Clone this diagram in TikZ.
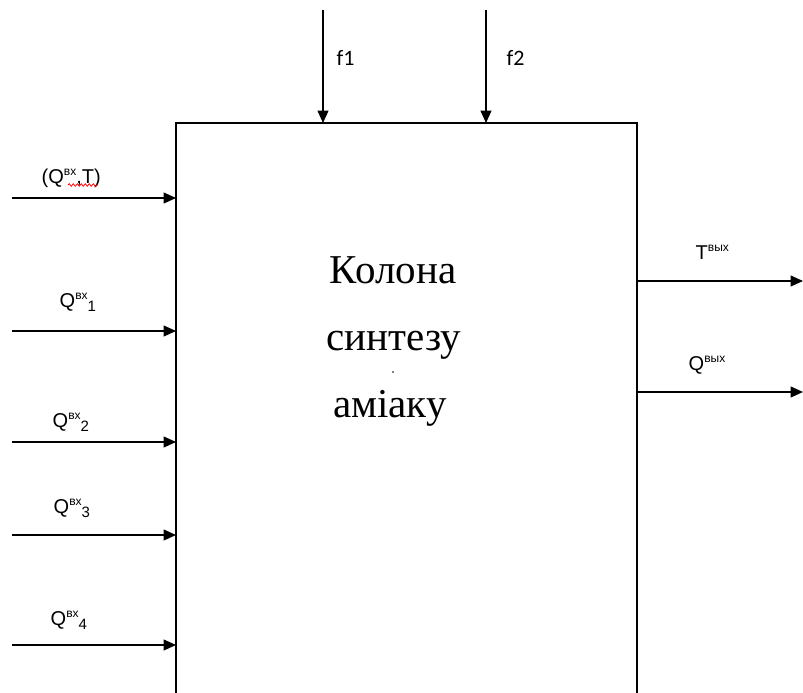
\documentclass[tikz,border=0pt]{standalone}
\usepackage{fontspec}
\setmainfont{Liberation Serif}
\newfontfamily\labfont{Liberation Sans}
\newfontfamily\califont{Carlito}
\usetikzlibrary{arrows.meta,decorations.pathmorphing}
\newcommand{\mysup}[1]{\raisebox{8pt}{\fontsize{12}{12}\selectfont #1}}
\newcommand{\mysub}[1]{\raisebox{-4pt}{\fontsize{15}{15}\selectfont #1}}
\begin{document}
\begin{tikzpicture}[x=1pt,y=-1pt,line width=1.4pt,
  arr/.style={-{Triangle[length=12.5pt,width=11pt]}},
  lab/.style={font=\labfont\fontsize{20}{20}\selectfont,inner sep=0pt,anchor=base west},
  flab/.style={font=\califont\fontsize{22}{22}\selectfont,inner sep=0pt,anchor=base west},
  big/.style={font=\fontsize{41}{41}\selectfont,inner sep=0pt,anchor=base}]
\useasboundingbox (0,0) rectangle (803,693);
% box (open at the bottom)
\coordinate (bbl) at (176,700);
\coordinate (btl) at (176,123);
\coordinate (btr) at (637,123);
\coordinate (bbr) at (637,700);
\draw (bbl) -- (btl) -- (btr) -- (bbr);
% top inputs
\coordinate (f1s) at (323,10);  \coordinate (f1e) at (323,123);
\coordinate (f2s) at (486,10);  \coordinate (f2e) at (486,123);
\draw[arr] (f1s) -- (f1e);
\draw[arr] (f2s) -- (f2e);
\node[flab] (f1) at (336,66) {f1};
\node[flab] (f2) at (506,66) {f2};
% left inputs
\foreach \y/\n in {198/a,331/b,442/c,535/d,645/e}{
  \coordinate (in\n s) at (12,\y);
  \coordinate (in\n e) at (176,\y);
  \draw[arr] (in\n s) -- (in\n e);
}
\node[lab] (l0) at (41,183) {(Q\mysup{вх},T)};
\draw[red,line width=0.8pt,decorate,decoration={snake,amplitude=1.2pt,segment length=4pt}] (68,185) -- (98,185);
\node[lab] (l1) at (59,307) {Q\mysup{вх}\mysub{1}};
\node[lab] (l2) at (52,427) {Q\mysup{вх}\mysub{2}};
\node[lab] (l3) at (53,513) {Q\mysup{вх}\mysub{3}};
\node[lab] (l4) at (50,625) {Q\mysup{вх}\mysub{4}};
% right outputs
\coordinate (ots) at (637,281); \coordinate (ote) at (803,281);
\coordinate (oqs) at (637,392); \coordinate (oqe) at (803,392);
\draw[arr] (ots) -- (ote);
\draw[arr] (oqs) -- (oqe);
\node[lab] (tout) at (695,259) {T\mysup{вых}};
\node[lab] (qout) at (688,370) {Q\mysup{вых}};
% main text
\node[big] (t1) at (393,283) {Колона};
\node[big] (t2) at (394,350) {синтезу};
\node[big] (t3) at (390,417) {аміаку};
\fill (393,372) circle (0.8pt);
\end{tikzpicture}
\end{document}
